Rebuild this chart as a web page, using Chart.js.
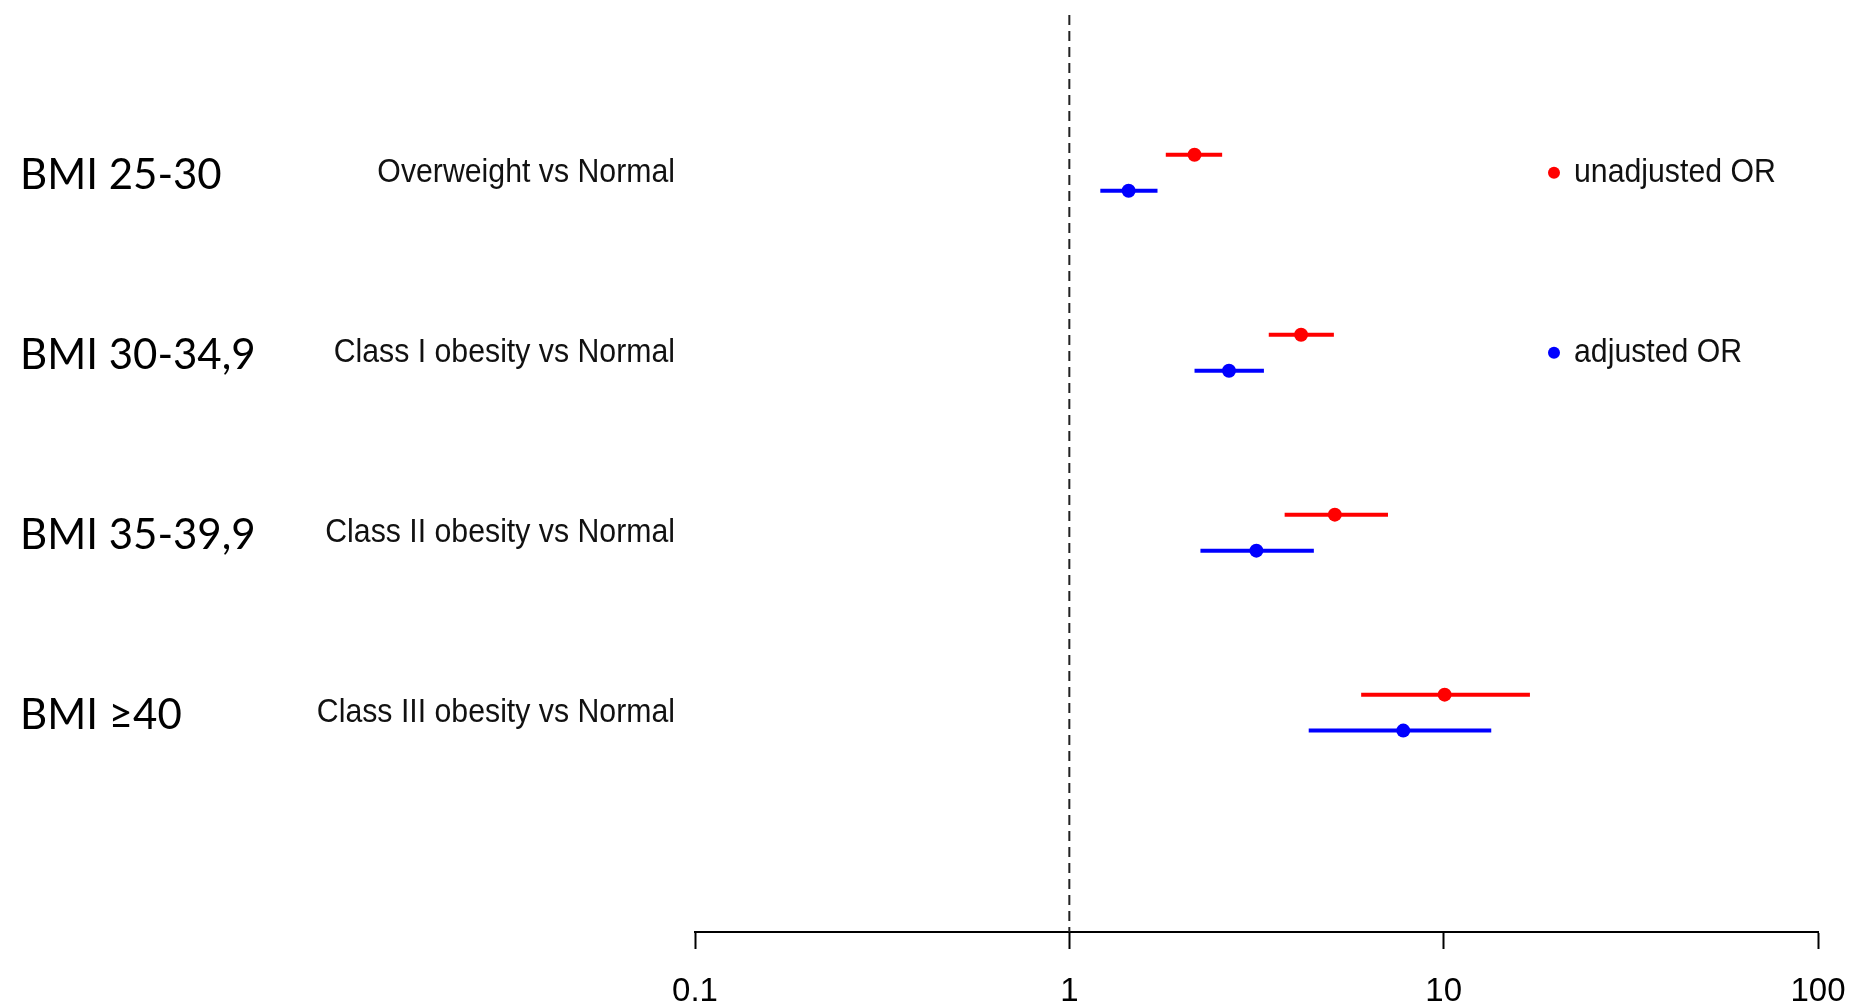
<!DOCTYPE html>
<html><head><meta charset="utf-8">
<script src="https://cdn.jsdelivr.net/npm/chart.js@4/dist/chart.umd.min.js"></script>
<style>html,body{margin:0;padding:0;background:#fff;}#wrap{width:1860px;height:1006px;}</style>
</head><body><div id="wrap"><canvas id="c" width="1860" height="1006"></canvas></div>
<script>
const bmiGroups = ["BMI 25-30", "BMI 30-34,9", "BMI 35-39,9", "BMI \u226540"];
const comparisons = ["Overweight vs Normal", "Class I obesity vs Normal", "Class II obesity vs Normal", "Class III obesity vs Normal"];
const seriesNames = ["unadjusted OR", "adjusted OR"];
const unadjOR = [2.16, 4.16, 5.12, 10.06];
const unadjLo = [1.81, 3.41, 3.76, 6.02];
const unadjHi = [2.56, 5.09, 7.10, 17.0];
const adjOR = [1.44, 2.67, 3.16, 7.80];
const adjLo = [1.21, 2.16, 2.24, 4.36];
const adjHi = [1.72, 3.31, 4.50, 13.4];
const tickValues = [0.1, 1, 10, 100];
const refValue = 1;

const colors = ['#ff0000', '#0000ff'];
const rowOffset = [0, 0.2];
const series = [
  {or: unadjOR, lo: unadjLo, hi: unadjHi},
  {or: adjOR, lo: adjLo, hi: adjHi}
];

const datasets = [];
series.forEach((s, si) => {
  s.or.forEach((v, i) => {
    datasets.push({
      type: 'line',
      data: [{x: s.lo[i], y: i + 1 + rowOffset[si]}, {x: s.hi[i], y: i + 1 + rowOffset[si]}],
      borderColor: colors[si], borderWidth: 4, pointRadius: 0, fill: false, borderCapStyle: 'butt'
    });
  });
  datasets.push({
    type: 'scatter',
    data: s.or.map((v, i) => ({x: v, y: i + 1 + rowOffset[si]})),
    backgroundColor: colors[si], borderColor: colors[si], pointRadius: 7, pointBorderWidth: 0
  });
});

function condensed(ctx, text, x, y, align, sx) {
  ctx.save();
  ctx.translate(x, y);
  ctx.scale(sx, 1);
  ctx.textAlign = align;
  ctx.fillText(text, 0, 0);
  ctx.restore();
}

const annot = {
  id: 'annot',
  beforeDatasetsDraw(chart) {
    const {ctx, chartArea, scales} = chart;
    const x = scales.x.getPixelForValue(refValue);
    ctx.save();
    ctx.strokeStyle = '#222';
    ctx.lineWidth = 2;
    ctx.setLineDash([10, 6]);
    ctx.beginPath();
    ctx.moveTo(x, chartArea.top + 8);
    ctx.lineTo(x, chartArea.bottom);
    ctx.stroke();
    ctx.restore();
  },
  afterDraw(chart) {
    const {ctx, scales} = chart;
    const y = scales.y;
    ctx.save();
    ctx.fillStyle = '#000';
    ctx.textBaseline = 'middle';
    bmiGroups.forEach((t, i) => {
      ctx.font = '42px Lato';
      condensed(ctx, t, 20, y.getPixelForValue(i + 1.1) + 3, 'left', 1);
    });
    ctx.fillStyle = '#111';
    comparisons.forEach((t, i) => {
      ctx.font = '34px "Liberation Sans"';
      condensed(ctx, t, 675, y.getPixelForValue(i + 1.1), 'right', 0.89);
    });
    seriesNames.forEach((t, i) => {
      const py = y.getPixelForValue(i + 1.1);
      ctx.fillStyle = colors[i];
      ctx.beginPath();
      ctx.arc(1554, py, 6, 0, Math.PI * 2);
      ctx.fill();
      ctx.fillStyle = '#111';
      ctx.font = '34px "Liberation Sans"';
      condensed(ctx, t, 1574, py, 'left', 0.89);
    });
    ctx.restore();
  }
};

new Chart(document.getElementById('c'), {
  type: 'scatter',
  data: {datasets},
  options: {
    responsive: false,
    animation: false,
    layout: {padding: {left: 695, right: 42, top: 0, bottom: 0}},
    plugins: {legend: {display: false}, tooltip: {enabled: false}},
    scales: {
      x: {
        type: 'logarithmic', min: 0.1, max: 100,
        afterBuildTicks(s) { s.ticks = tickValues.map(v => ({value: v})); },
        afterFit(s) { s.height = 74; s.paddingLeft = 0; s.paddingRight = 0; },
        ticks: {
          callback: (v) => String(v),
          color: '#000', padding: 23, maxRotation: 0, autoSkip: false,
          font: {family: '"Liberation Sans Narrow", "Liberation Sans"', size: 33}
        },
        grid: {drawOnChartArea: false, drawTicks: true, tickLength: 17, tickColor: '#000', tickWidth: 2},
        border: {display: true, color: '#000', width: 2}
      },
      y: {
        type: 'linear', reverse: true, min: 0.179, max: 5.319, display: false
      }
    }
  },
  plugins: [annot]
});
</script></body></html>
